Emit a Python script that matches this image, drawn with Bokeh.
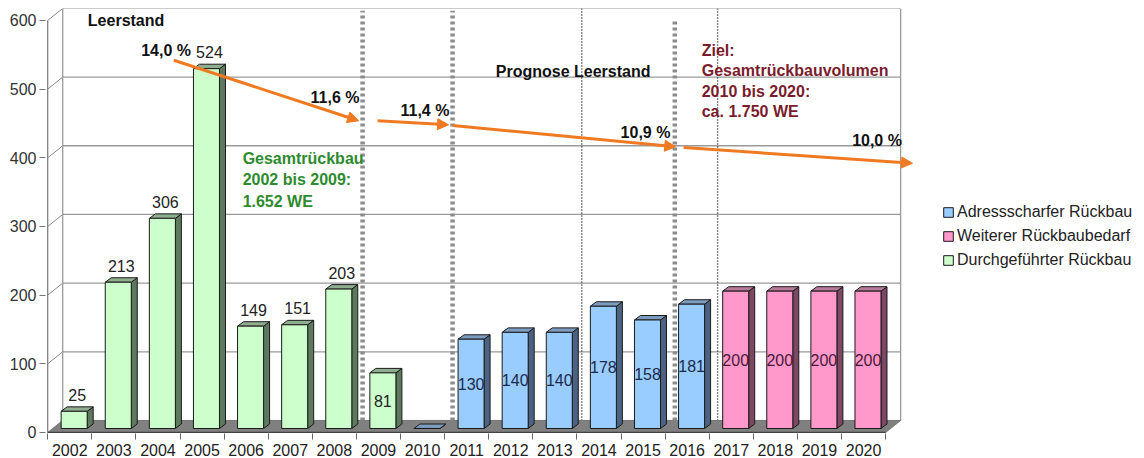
from bokeh.plotting import figure
from bokeh.models import (Range1d, FixedTicker, ColumnDataSource, Arrow, NormalHead,
                          Legend, LegendItem, Label)
from bokeh.core.properties import value
from bokeh.embed import file_html
from bokeh.resources import INLINE

# ---------------- data ----------------
years = [str(y) for y in range(2002, 2021)]

done_years = ["2002", "2003", "2004", "2005", "2006", "2007", "2008", "2009"]
done_vals = [25, 213, 306, 524, 149, 151, 203, 81]
done_inside = [False, False, False, False, False, False, False, True]

addr_years = ["2010", "2011", "2012", "2013", "2014", "2015", "2016"]
addr_vals = [0, 130, 140, 140, 178, 158, 181]
addr_inside = [True] * 7

more_years = ["2017", "2018", "2019", "2020"]
more_vals = [200, 200, 200, 200]
more_inside = [True] * 4

y_ticks = [0, 100, 200, 300, 400, 500, 600]

# vacancy (Leerstand) trend arrows and their labels
rate_labels = ["14,0 %", "11,6 %", "11,4 %", "10,9 %", "10,0 %"]
arrow_x0 = [2.36, 6.98, 8.68, 13.92]
arrow_y0 = [542, 454, 447, 415]
arrow_x1 = [6.55, 8.59, 13.74, 19.11]
arrow_y1 = [454, 448, 416, 392]
rate_x = [1.62, 5.46, 7.50, 12.49, 18.87]
rate_y = [556, 488, 469, 437, 425]
rate_align = ["left", "left", "left", "left", "right"]

# phase separators
thick_sep_x = [6.64, 8.68, 13.72]
thick_sep_top = [614, 614, 600]
thin_sep_x = [11.61, 14.69]

# ---------------- style constants ----------------
FONT = "Liberation Sans"
BAR_W = 0.59
BAR_SHIFT = 0.10
BAR_LIFT = 5.8
DX = 0.136
DY = 6.5
WALL_X = 0.34
WALL_Y = 17.5
X_LEFT = -0.5
X_RIGHT = 18.5

p = figure(width=1144, height=458, output_backend="svg", toolbar_location=None,
           x_range=Range1d(-0.55, 24.37), y_range=Range1d(-1.5, 617.4),
           min_border_left=45, min_border_right=0, min_border_top=8, min_border_bottom=0)
p.outline_line_color = None
p.xgrid.visible = False
p.ygrid.visible = False
p.background_fill_color = "white"
p.border_fill_color = "white"

# axes
p.yaxis.ticker = FixedTicker(ticks=y_ticks)
p.yaxis.axis_line_color = None
p.yaxis.major_tick_out = 6
p.yaxis.major_tick_in = 0
p.yaxis.major_tick_line_color = "#777777"
p.yaxis.minor_tick_line_color = None
p.yaxis.major_label_text_font = FONT
p.yaxis.major_label_text_font_size = "16px"
p.yaxis.major_label_text_color = "#333333"
p.yaxis.major_label_standoff = 3

p.xaxis.ticker = FixedTicker(ticks=list(range(len(years))),
                             minor_ticks=[i - 0.5 for i in range(len(years) + 1)])
p.xaxis.major_label_overrides = {i: y for i, y in enumerate(years)}
p.xaxis.axis_line_color = None
p.xaxis.major_tick_line_color = None
p.xaxis.major_tick_out = 0
p.xaxis.major_tick_in = 0
p.xaxis.minor_tick_out = 6
p.xaxis.minor_tick_in = 0
p.xaxis.minor_tick_line_color = "#666666"
p.xaxis.major_label_text_font = FONT
p.xaxis.major_label_text_font_size = "16px"
p.xaxis.major_label_text_color = "#222222"
p.xaxis.major_label_standoff = 4

# back wall gridlines and frame of the 3D box
grid_vals = [v for v in y_ticks if v > 0]
p.segment(x0=[X_LEFT + WALL_X] * len(grid_vals), y0=[v + WALL_Y for v in grid_vals],
          x1=[X_RIGHT + WALL_X] * len(grid_vals), y1=[v + WALL_Y for v in grid_vals],
          line_color="#9a9a9a", line_width=1.3)
p.segment(x0=[X_LEFT] * len(grid_vals), y0=grid_vals,
          x1=[X_LEFT + WALL_X] * len(grid_vals), y1=[v + WALL_Y for v in grid_vals],
          line_color="#8a8a8a", line_width=1)
p.segment(x0=[X_LEFT + WALL_X, X_RIGHT + WALL_X], y0=[WALL_Y, WALL_Y],
          x1=[X_LEFT + WALL_X, X_RIGHT + WALL_X], y1=[y_ticks[-1] + WALL_Y] * 2,
          line_color="#9a9a9a", line_width=1.3)

# separators (behind bars)
p.segment(x0=thin_sep_x, x1=thin_sep_x, y0=[WALL_Y] * len(thin_sep_x),
          y1=[y_ticks[-1] + WALL_Y] * len(thin_sep_x),
          line_color="#111111", line_width=1.4, line_dash="1 2")

# floor
p.patch(x=[X_LEFT, X_RIGHT, X_RIGHT + WALL_X, X_LEFT + WALL_X],
        y=[0, 0, WALL_Y, WALL_Y], fill_color="#808080", line_color="#777777")
p.segment(x0=[X_LEFT], y0=[0], x1=[X_RIGHT], y1=[0], line_color="#444444", line_width=1.2)
# y axis line
p.segment(x0=[X_LEFT], y0=[0], x1=[X_LEFT], y1=[y_ticks[-1]], line_color="#777777", line_width=1.2)

p.segment(x0=thick_sep_x, x1=thick_sep_x, y0=[WALL_Y] * len(thick_sep_x), y1=thick_sep_top,
          line_color="#8c8c8c", line_width=4.5, line_dash="3 3")


def draw_series(yrs, vals, inside, front, side, top, lab_color):
    idx = [years.index(y) for y in yrs]
    xc = [i + BAR_SHIFT for i in idx]
    x0 = [c - BAR_W / 2 for c in xc]
    x1 = [c + BAR_W / 2 for c in xc]
    yb = [BAR_LIFT] * len(vals)
    yt = [BAR_LIFT + v for v in vals]
    # side faces
    sx = [[a, a + DX, a + DX, a] for a in x1]
    sy = [[b, b + DY, t + DY, t] for b, t in zip(yb, yt)]
    p.patches(xs=sx, ys=sy, fill_color=side, line_color="#1a1a1a", line_width=1)
    # top faces
    tx = [[a, b, b + DX, a + DX] for a, b in zip(x0, x1)]
    ty = [[t, t, t + DY, t + DY] for t in yt]
    p.patches(xs=tx, ys=ty, fill_color=top, line_color="#1a1a1a", line_width=1)
    # front faces
    src = ColumnDataSource(dict(x=xc, top=yt, bottom=yb))
    r = p.vbar(x="x", top="top", bottom="bottom", width=BAR_W, source=src,
               fill_color=front, line_color="#1a1a1a", line_width=1)
    # labels
    ox, oy, ot = [], [], []
    ix, iy, it = [], [], []
    for c, v, t, ins in zip(xc, vals, yt, inside):
        if v == 0:
            continue
        if ins:
            ix.append(c); iy.append(BAR_LIFT + v / 2); it.append(str(v))
        else:
            ox.append(c); oy.append(t + DY); ot.append(str(v))
    if ox:
        p.text(x=ox, y=oy, text=ot, text_font=value(FONT), text_font_size="16px",
               text_color="#222222", text_align="center", text_baseline="bottom",
               x_offset=3, y_offset=-6)
    if ix:
        p.text(x=ix, y=iy, text=it, text_font=value(FONT), text_font_size="16px",
               text_color=lab_color, text_align="center", text_baseline="middle")
    return r


r_done = draw_series(done_years, done_vals, done_inside, "#ccffcc", "#5e7a5e", "#8fae8f", "#222222")
r_addr = draw_series(addr_years, addr_vals, addr_inside, "#99ccff", "#4a6382", "#7d9cc0", "#1c2a48")
r_more = draw_series(more_years, more_vals, more_inside, "#ff99cc", "#7d4862", "#b87a9a", "#4a1836")

# vacancy arrows
ORANGE = "#f07a22"
for xa, ya, xb, yb in zip(arrow_x0, arrow_y0, arrow_x1, arrow_y1):
    p.add_layout(Arrow(end=NormalHead(size=11, fill_color=ORANGE, line_color=ORANGE),
                       x_start=xa, y_start=ya, x_end=xb, y_end=yb,
                       line_color=ORANGE, line_width=3))

for t, x, y, a in zip(rate_labels, rate_x, rate_y, rate_align):
    p.add_layout(Label(x=x, y=y, text=t, text_font=FONT, text_font_size="16px",
                       text_font_style="bold", text_color="#111111",
                       text_align=a, text_baseline="middle"))


def note(lines, x, y_first, color, step=29.5):
    for k, line in enumerate(lines):
        p.add_layout(Label(x=x, y=y_first - k * step, text=line, text_font=FONT,
                           text_font_size="16px", text_font_style="bold",
                           text_color=color, text_align="left", text_baseline="middle"))


note(["Leerstand"], 0.41, 600, "#111111")
note(["Prognose Leerstand"], 9.66, 526, "#111111")
note(["Gesamtrückbau", "2002 bis 2009:", "1.652 WE"], 3.92, 399, "#2e8b2e", step=31)
note(["Ziel:", "Gesamtrückbauvolumen", "2010 bis 2020:", "ca. 1.750 WE"], 14.33, 556, "#7a1c2c")

legend = Legend(items=[LegendItem(label="Adressscharfer Rückbau", renderers=[r_addr]),
                       LegendItem(label="Weiterer Rückbaubedarf", renderers=[r_more]),
                       LegendItem(label="Durchgeführter Rückbau", renderers=[r_done])],
                location=(897, 163), orientation="vertical",
                label_text_font=FONT, label_text_font_size="16px", label_text_color="#222222",
                glyph_width=12, glyph_height=12, label_height=20, label_standoff=3,
                spacing=4, padding=0, margin=0, border_line_color=None,
                background_fill_alpha=0)
p.add_layout(legend)

open("out.html", "w").write(file_html(p, INLINE))
